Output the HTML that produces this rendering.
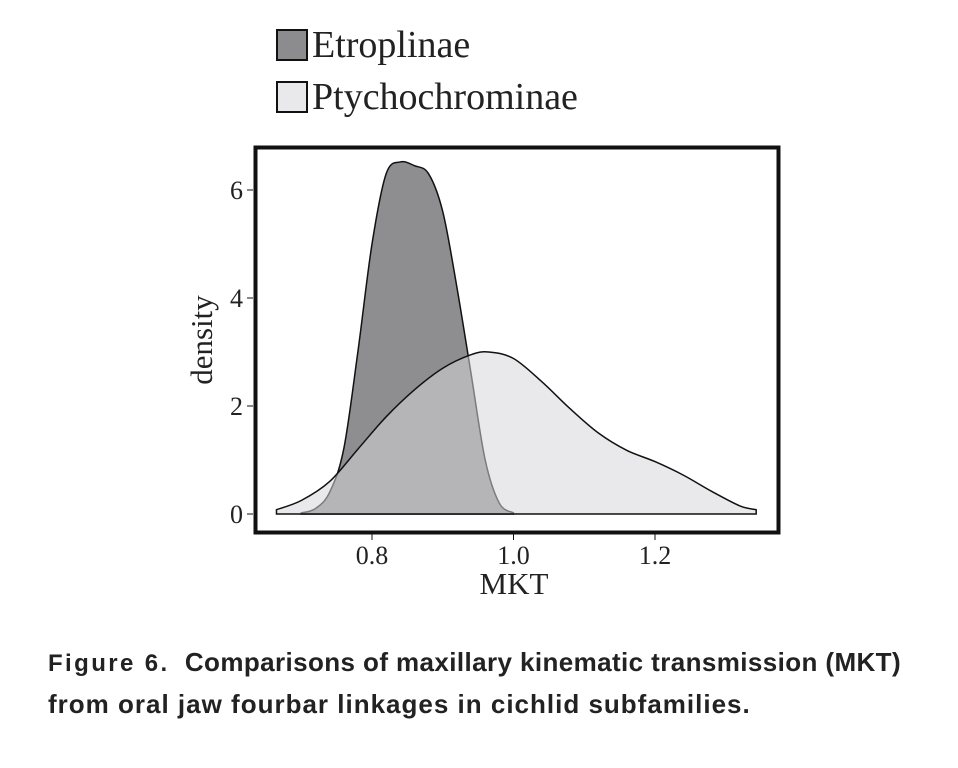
<!DOCTYPE html>
<html><head><meta charset="utf-8"><style>
body{margin:0;background:#fff;width:958px;height:768px;overflow:hidden}
svg{position:absolute;left:0;top:0}
.cap{position:absolute;left:48px;top:642px;font-family:"Liberation Sans",sans-serif;font-weight:bold;font-size:26px;color:#222;line-height:40px;white-space:nowrap}
.l1{letter-spacing:0.4px}
.l2{letter-spacing:1px}
.fig{font-family:"Liberation Sans",sans-serif;font-weight:bold;letter-spacing:2.4px;font-size:24px}
</style></head><body>
<svg width="958" height="768" xmlns="http://www.w3.org/2000/svg">
<g font-family="Liberation Serif, serif" fill="#222">
<rect x="277" y="30" width="30" height="30" fill="#8c8c8e" stroke="#111" stroke-width="2"/>
<text x="312" y="57" font-size="38">Etroplinae</text>
<rect x="277" y="82" width="30" height="30" fill="#e9e9eb" stroke="#111" stroke-width="2"/>
<text x="312" y="109" font-size="38">Ptychochrominae</text>
</g>
<g id="plot"></g>
<rect x="255.5" y="147.5" width="523" height="385" fill="none" stroke="#111" stroke-width="4"/>
<g id="axes" font-family="Liberation Serif, serif" fill="#222"></g>
<text x="0" y="0" transform="translate(212,340) rotate(-90)" text-anchor="middle" font-family="Liberation Serif, serif" font-size="31" fill="#222">density</text>
<text x="514" y="594" text-anchor="middle" font-family="Liberation Serif, serif" font-size="31" fill="#222">MKT</text>
</svg>
<div class="cap"><span class="l1"><span class="fig">Figure 6.</span>&nbsp; Comparisons of maxillary kinematic transmission (MKT)</span><br><span class="l2">from oral jaw fourbar linkages in cichlid subfamilies.</span></div>
<script>
const etroX=[0.70,0.72,0.74,0.76,0.78,0.80,0.82,0.84,0.86,0.88,0.90,0.92,0.94,0.96,0.98,1.00];
const etroY=[0.02,0.1,0.4,1.2,3.0,5.0,6.3,6.52,6.45,6.3,5.6,4.2,2.6,1.0,0.2,0.02];
const ptyX=[0.665,0.70,0.74,0.78,0.82,0.86,0.90,0.94,0.965,1.00,1.04,1.08,1.12,1.16,1.20,1.24,1.28,1.32,1.343];
const ptyY=[0.08,0.25,0.6,1.2,1.8,2.3,2.7,2.95,3.0,2.88,2.45,1.95,1.5,1.18,0.97,0.72,0.42,0.15,0.08];
const xTicks=[0.8,1.0,1.2];
const xTickLabels=["0.8","1.0","1.2"];
const yTicks=[0,2,4,6];
const yTickLabels=["0","2","4","6"];
const xs=v=>372+(v-0.8)*707.5;
const ys=v=>514-v*54;
const NS="http://www.w3.org/2000/svg";
function smooth(X,Y){
  const p=X.map((x,i)=>[xs(x),ys(Y[i])]);
  let d="M"+xs(X[0])+","+ys(0)+" L"+p[0][0]+","+p[0][1];
  for(let i=0;i<p.length-1;i++){
    const p0=p[i-1]||p[i],p1=p[i],p2=p[i+1],p3=p[i+2]||p2;
    const c1=[p1[0]+(p2[0]-p0[0])/6,p1[1]+(p2[1]-p0[1])/6];
    const c2=[p2[0]-(p3[0]-p1[0])/6,p2[1]-(p3[1]-p1[1])/6];
    d+=` C${c1[0]},${c1[1]} ${c2[0]},${c2[1]} ${p2[0]},${p2[1]}`;
  }
  d+=" L"+xs(X[X.length-1])+","+ys(0)+" Z";
  return d;
}
const plot=document.getElementById('plot');
const e=document.createElementNS(NS,'path');
e.setAttribute('d',smooth(etroX,etroY));
e.setAttribute('fill','#8e8e90');e.setAttribute('stroke','#111');e.setAttribute('stroke-width','1.5');


plot.appendChild(e);
const p=document.createElementNS(NS,'path');
p.setAttribute('d',smooth(ptyX,ptyY));
p.setAttribute('fill','rgba(215,215,218,0.54)');p.setAttribute('stroke','#111');p.setAttribute('stroke-width','1.5');


plot.appendChild(p);
const ax=document.getElementById('axes');
xTicks.forEach((v,i)=>{
  const l=document.createElementNS(NS,'line');
  l.setAttribute('x1',xs(v));l.setAttribute('x2',xs(v));l.setAttribute('y1',534);l.setAttribute('y2',540);l.setAttribute('stroke','#111');
  
  
  ax.appendChild(l);
  const t=document.createElementNS(NS,'text');
  t.setAttribute('x',xs(v));t.setAttribute('y',564);t.setAttribute('text-anchor','middle');t.setAttribute('font-size','26');
  t.textContent=xTickLabels[i];
  
  
  ax.appendChild(t);
});
yTicks.forEach((v,i)=>{
  const l=document.createElementNS(NS,'line');
  l.setAttribute('x1',247);l.setAttribute('x2',253);l.setAttribute('y1',ys(v));l.setAttribute('y2',ys(v));l.setAttribute('stroke','#111');
  
  
  ax.appendChild(l);
  const t=document.createElementNS(NS,'text');
  t.setAttribute('x',243);t.setAttribute('y',ys(v)+9);t.setAttribute('text-anchor','end');t.setAttribute('font-size','26');
  t.textContent=yTickLabels[i];
  
  
  ax.appendChild(t);
});
</script>
</body></html>
